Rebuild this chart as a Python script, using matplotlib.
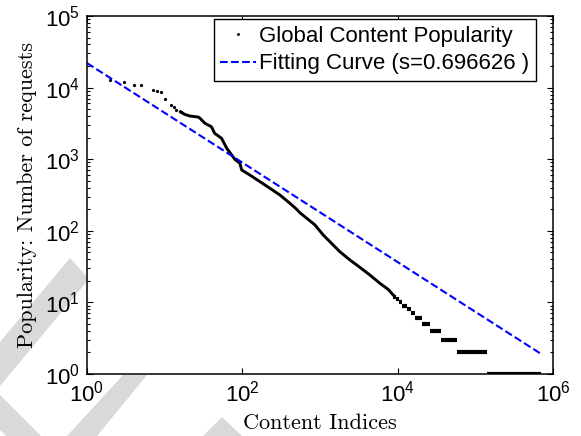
import matplotlib
matplotlib.use("Agg")
import matplotlib.pyplot as plt
from matplotlib.patches import Polygon
from matplotlib.ticker import LogLocator, NullLocator

plt.rcParams["font.family"] = ["Liberation Sans", "DejaVu Sans"]

# ---- data ----
# head of the ranking: single dots
head_rank = [2, 3, 4, 5, 7, 8, 9, 10, 12, 13, 14, 16]
head_req = [12800, 11900, 10900, 10800, 9200, 9050, 8800, 6900, 5700, 5300, 4900, 4600]

# dense middle part (reads as a solid line)
mid_rank = [16, 18, 21, 27, 28.5, 33, 40, 44, 54, 63, 73, 80, 93, 98, 125, 169, 227,
            305, 410, 500, 551, 673, 860, 1100, 1410, 1800, 2430, 3260, 4390, 5900,
            7550, 8750]
mid_req = [4600, 4240, 4010, 3880, 3730, 3170, 2840, 2300, 1960, 1420, 1145, 998, 877,
           707, 601, 485, 392, 316, 242, 200, 179, 150, 121, 87.4, 66.8, 51.1, 39.1,
           30.9, 24.1, 18.5, 15.2, 12.7]

# tail: integer request counts over rank ranges
tail_req = [12, 11, 10, 9, 8, 7, 6, 5, 4, 3, 2, 1]
tail_start = [8600, 9500, 10400, 11500, 13000, 14700, 16800, 20800, 26000, 36500,
              58500, 140000]
tail_end = [9500, 10400, 11500, 13000, 14700, 16800, 20800, 26000, 36500, 58500,
            140000, 710000]

# Zipf fit end points (s = 0.696626)
fit_x = [1, 6.8e5]
fit_y = [2.2e4, 1.95]
fit_label = "Fitting Curve (s=0.696626 )"

W, H = 581, 436
fig = plt.figure(figsize=(W / 100, H / 100), dpi=100)
fig.patch.set_facecolor("white")

# light grey watermark stripes behind the axes (pixel coords)
stripes = [
    [(0, 342), (70, 258), (89, 279), (0, 386)],
    [(0, 395), (41, 436), (6, 436), (0, 430)],
    [(123, 375), (147, 375), (97, 436), (67, 436)],
    [(222, 417), (203, 436), (242, 436)],
]
for pts in stripes:
    poly = Polygon([(x / W, 1 - y / H) for x, y in pts], closed=True,
                   transform=fig.transFigure, facecolor="#d9d9d9",
                   edgecolor="none", zorder=-5)
    fig.add_artist(poly)

ax = fig.add_axes([87 / W, 1 - 374 / H, (553 - 87) / W, (374 - 16) / H])
ax.set_facecolor("white")
ax.set_xscale("log")
ax.set_yscale("log")
ax.set_xlim(1, 1e6)
ax.set_ylim(1, 1e5)

ax.plot(mid_rank, mid_req, "-", color="black", lw=2.1, zorder=3)
ax.hlines(tail_req, tail_start, tail_end, color="black", lw=3.0, zorder=3)
ax.plot(head_rank, head_req, ".", color="black", ms=2.6, zorder=3,
        label="Global Content Popularity")
ax.plot(fit_x, fit_y, "--", color="#0000FF", lw=1.5, zorder=4, label=fit_label)

# ticks, MATLAB style
ax.set_xticks([1, 1e2, 1e4, 1e6])
ax.xaxis.set_minor_locator(NullLocator())
ax.yaxis.set_major_locator(LogLocator(base=10, numticks=10))
ax.yaxis.set_minor_locator(LogLocator(base=10, subs=range(2, 10), numticks=10))
ax.tick_params(which="both", direction="in", top=True, right=True, labelsize=16,
               width=0.8)
ax.tick_params(which="major", length=4.5, pad=5)
ax.tick_params(which="minor", length=2.2)
for sp in ax.spines.values():
    sp.set_linewidth(1.1)
    sp.set_zorder(5)

ax.set_xlabel("Content Indices", family="cmr10", fontsize=16, labelpad=5)
ax.set_ylabel("Popularity: Number of requests", family="cmr10", fontsize=16,
              labelpad=6)

leg = ax.legend(loc="upper right", bbox_to_anchor=(0.9635, 0.9916),
                borderaxespad=0, fontsize=16, frameon=True, fancybox=False,
                edgecolor="black", framealpha=1, handlelength=1.6,
                handletextpad=0.15, labelspacing=0.3, borderpad=0.3,
                markerscale=0.8)
leg.get_frame().set_linewidth(1.0)

fig.savefig("out.png", dpi=100)
